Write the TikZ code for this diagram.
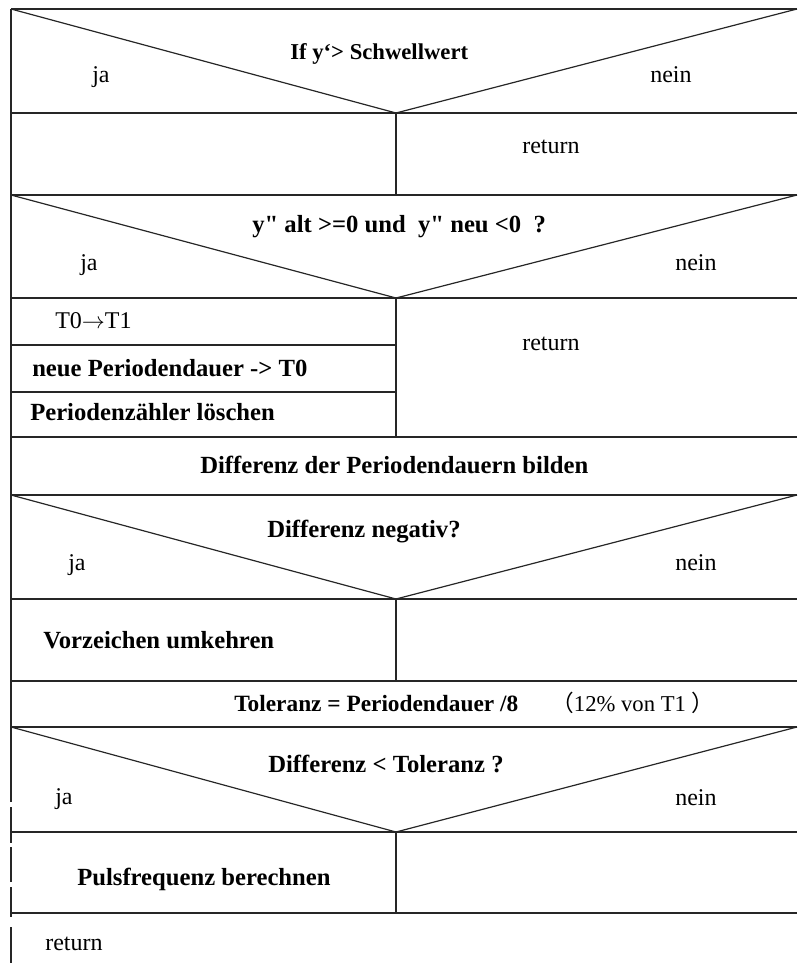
\documentclass[tikz,border=0pt]{standalone}
\usepackage{fontspec}
\setmainfont{Liberation Serif}[Ligatures=TeXOff]
\newfontfamily\cjkfont{Noto Sans CJK SC}

\tikzset{
  frame/.style={line width=1.1pt, draw=black!85},
  diag/.style={line width=0.9pt, draw=black!85},
  boldtxt/.style={anchor=base west, inner sep=0pt, font=\fontsize{18.5}{20}\selectfont\bfseries},
  plaintxt/.style={anchor=base west, inner sep=0pt, font=\fontsize{18}{20}\selectfont},
}

\begin{document}
\begin{tikzpicture}[x=0.75pt, y=-0.75pt]
\useasboundingbox (0,0) rectangle (797,966);

% ---------- horizontal rules ----------
\foreach \yy in {9,113,195,298,437,495,599,681,727,832,913}
  \draw[frame] (11,\yy) -- (797,\yy);
\foreach \yy in {345,392}
  \draw[frame] (11,\yy) -- (396,\yy);

% ---------- centre splits of the branch rows ----------
\draw[frame] (396,113) -- (396,195);
\draw[frame] (396,298) -- (396,437);
\draw[frame] (396,599) -- (396,681);
\draw[frame] (396,832) -- (396,913);

% ---------- left border (broken towards the end) ----------
\draw[frame] (11,9) -- (11,802);
\draw[frame] (11,807) -- (11,843);
\draw[frame] (11,847) -- (11,882);
\draw[frame] (11,887) -- (11,917);
\draw[frame] (11,927) -- (11,963);

% ---------- decision triangles ----------
\foreach \top/\bot in {9/113, 195/298, 495/599, 727/832}
  \draw[diag] (11,\top) -- (396,\bot) -- (797,\top);

% ---------- decision 1 ----------
\node[boldtxt, font=\fontsize{17}{20}\selectfont\bfseries] (c1) at (290,60) {If y‘> Schwellwert};
\node[plaintxt] (ja1) at (92,83) {ja};
\node[plaintxt] (nein1) at (650,83) {nein};
\node[plaintxt] (ret1) at (522,154) {return};

% ---------- decision 2 ----------
\node[boldtxt] (c2) at (252,233) {y" alt >=0 und\ \ y" neu <0\ \ ?};
\node[plaintxt] (ja2) at (80,270) {ja};
\node[plaintxt] (nein2) at (675,270) {nein};
\node[plaintxt] (t0t1) at (55,328) {T0$\rightarrow$T1};
\node[boldtxt] (neu) at (32,376) {neue Periodendauer -> T0};
\node[boldtxt] (clr) at (30,420) {Periodenzähler löschen};
\node[plaintxt] (ret2) at (522,350) {return};

% ---------- difference ----------
\node[boldtxt] (diff) at (200,473) {Differenz der Periodendauern bilden};

% ---------- decision 3 ----------
\node[boldtxt] (c3) at (267,537) {Differenz negativ?};
\node[plaintxt] (ja3) at (68,570) {ja};
\node[plaintxt] (nein3) at (675,570) {nein};
\node[boldtxt] (neg) at (43,648) {Vorzeichen umkehren};

% ---------- tolerance ----------
\node[boldtxt, font=\fontsize{17.5}{20}\selectfont\bfseries] (tol) at (234,711) {Toleranz = Periodendauer /8};
\node[plaintxt, font=\fontsize{17}{20}\selectfont] (tolpct) at (551,711) {{\cjkfont （}12\% von T1 {\cjkfont ）}};

% ---------- decision 4 ----------
\node[boldtxt] (c4) at (268,772) {Differenz < Toleranz ?};
\node[plaintxt] (ja4) at (55,804) {ja};
\node[plaintxt] (nein4) at (675,805) {nein};
\node[boldtxt] (puls) at (77,885) {Pulsfrequenz berechnen};

% ---------- final return ----------
\node[plaintxt] (ret3) at (45,950) {return};
\end{tikzpicture}
\end{document}
